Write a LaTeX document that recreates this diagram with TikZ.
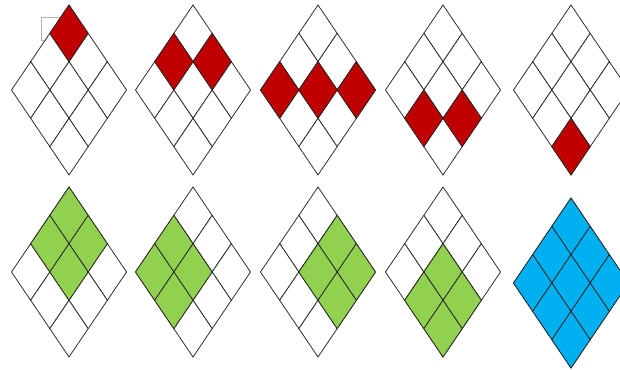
\documentclass[tikz,border=0pt]{standalone}
\definecolor{cred}{RGB}{192,0,0}
\definecolor{cgreen}{RGB}{146,208,80}
\definecolor{cblue}{RGB}{0,176,240}
\tikzset{cellline/.style={draw=black!85, line width=0.75pt, line join=miter}}
\newcommand\rhgrid[4]{%
  \begin{scope}[shift={(#1,#2)}, x={(19.17pt,-28.33pt)}, y={(-19.17pt,-28.33pt)}]
    \foreach \i in {0,1,2}{\foreach \j in {0,1,2}{%
      \filldraw[cellline, fill=white] (\i,\j) -- ++(1,0) -- ++(0,1) -- ++(-1,0) -- cycle;}}
    \foreach \i/\j in {#4}{%
      \filldraw[cellline, fill=#3] (\i,\j) -- ++(1,0) -- ++(0,1) -- ++(-1,0) -- cycle;}
  \end{scope}}
\begin{document}
\begin{tikzpicture}[x=1pt,y=-1pt]
  \useasboundingbox (0,0) rectangle (620,369);
  \clip (0,0) rectangle (620,369);
  \fill[white] (0,0) rectangle (620,369);
  % faint frame artifact
  \draw[black!30, line width=0.6pt] (41,17) rectangle (60,40);
  % top row (red)
  \rhgrid{69}{5}{cred}{0/0}
  \rhgrid{193}{5}{cred}{0/1,1/0}
  \rhgrid{318}{5}{cred}{0/2,1/1,2/0}
  \rhgrid{443}{5}{cred}{1/2,2/1}
  \rhgrid{571}{5}{cred}{2/2}
  % bottom row (green, blue)
  \rhgrid{69}{187}{cgreen}{0/0,1/0,0/1,1/1}
  \rhgrid{193}{187}{cgreen}{0/1,0/2,1/1,1/2}
  \rhgrid{318}{187}{cgreen}{1/0,2/0,1/1,2/1}
  \rhgrid{443}{187}{cgreen}{1/1,1/2,2/1,2/2}
  \rhgrid{571}{198}{cblue}{0/0,0/1,0/2,1/0,1/1,1/2,2/0,2/1,2/2}
\end{tikzpicture}
\end{document}
